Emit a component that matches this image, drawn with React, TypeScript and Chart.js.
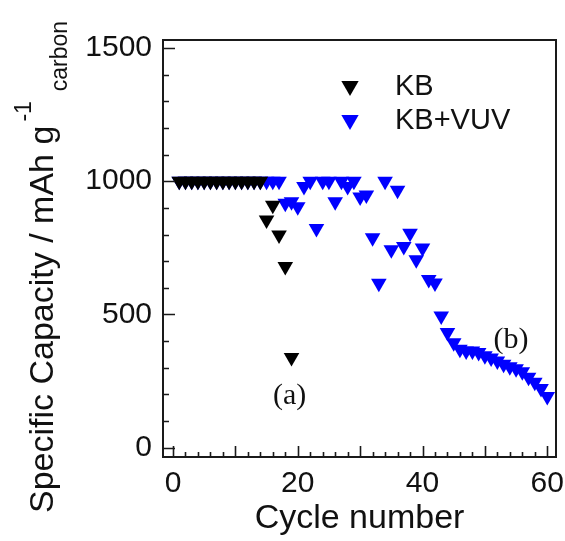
import React, { useEffect, useRef } from "react";
import { Chart, registerables } from "chart.js";

Chart.register(...registerables);

// ---- Data ----
const kbCycles = [1, 2, 3, 4, 5, 6, 7, 8, 9, 10, 11, 12, 13, 14, 15, 16, 17, 18, 19];
const kbCapacity = [1000, 1000, 1000, 1000, 1000, 1000, 1000, 1000, 1000, 1000, 1000, 1000, 1000, 1000, 854, 910, 798, 680, 338];

const vuvCycles = [
  1, 2, 3, 4, 5, 6, 7, 8, 9, 10, 11, 12, 13, 14, 15, 16, 17, 18, 19, 20,
  21, 22, 23, 24, 25, 26, 27, 28, 29, 30, 31, 32, 33, 34, 35, 36, 37, 38, 39, 40,
  41, 42, 43, 44, 45, 46, 47, 48, 49, 50, 51, 52, 53, 54, 55, 56, 57, 58, 59, 60,
];
const vuvCapacity = [
  1000, 1000, 1000, 1000, 1000, 1000, 1000, 1000, 1000, 1000, 1000, 1000, 1000, 1000, 1000, 1000, 1000, 917, 923, 904,
  980, 1000, 823, 1000, 1000, 923, 1000, 980, 1000, 941, 948, 788, 617, 1000, 743, 966, 755, 805, 705, 749,
  631, 618, 494, 432, 394, 369, 363, 363, 357, 345, 337, 325, 313, 304, 296, 285, 264, 246, 222, 192,
];

const seriesLabels = ["KB", "KB+VUV"];
const seriesColors = ["#000000", "#0000ff"];

const xTickLabels = [0, 20, 40, 60];
const yTickLabels = [0, 500, 1000, 1500];

const annotations = [
  { text: "(a)", x: 18.7, y: 194 },
  { text: "(b)", x: 54.2, y: 403 },
];

const SANS = "'Liberation Sans', Arial, sans-serif";
const SERIF = "'Liberation Serif', 'Times New Roman', serif";

const decorPlugin = {
  id: "decor",
  afterDraw(chart: any) {
    const { ctx, chartArea } = chart;
    const xs = chart.scales.x;
    const ys = chart.scales.y;
    const { left, right, top, bottom } = chartArea;
    ctx.save();
    // frame
    ctx.strokeStyle = "#1a1a1a";
    ctx.lineWidth = 2;
    ctx.strokeRect(left, top, right - left, bottom - top);
    // inward ticks
    ctx.lineWidth = 1.6;
    ctx.beginPath();
    for (let v = 0; v <= 60; v += 2) {
      const px = Math.round(xs.getPixelForValue(v)) + 0.5;
      const len = v % 10 === 0 ? 11 : 5;
      ctx.moveTo(px, bottom);
      ctx.lineTo(px, bottom - len);
    }
    for (let v = 0; v <= 1500; v += 100) {
      const py = Math.round(ys.getPixelForValue(v)) + 0.5;
      const len = v % 500 === 0 ? 12 : 6;
      ctx.moveTo(left, py);
      ctx.lineTo(left + len, py);
    }
    ctx.stroke();

    // legend
    const lx = left + 187;
    const ly = [top + 46, top + 80];
    seriesLabels.forEach((lab, i) => {
      const r = 10;
      const cx = lx;
      const cy = ly[i];
      ctx.fillStyle = seriesColors[i];
      ctx.beginPath();
      ctx.moveTo(cx, cy + r);
      ctx.lineTo(cx - r * 0.866, cy - r / 2);
      ctx.lineTo(cx + r * 0.866, cy - r / 2);
      ctx.closePath();
      ctx.fill();
      ctx.fillStyle = "#111";
      ctx.font = `29px ${SANS}`;
      ctx.textAlign = "left";
      ctx.textBaseline = "middle";
      ctx.fillText(lab, left + 232, cy + 1);
    });

    // annotations
    ctx.fillStyle = "#111";
    ctx.font = `30px ${SERIF}`;
    ctx.textAlign = "center";
    ctx.textBaseline = "middle";
    annotations.forEach((a) => {
      ctx.fillText(a.text, xs.getPixelForValue(a.x), ys.getPixelForValue(a.y));
    });

    // y-axis title with super/subscript
    ctx.translate(53, 513);
    ctx.rotate(-Math.PI / 2);
    ctx.textAlign = "left";
    ctx.textBaseline = "alphabetic";
    ctx.fillStyle = "#111";
    ctx.font = `34px ${SANS}`;
    const main = "Specific Capacity / mAh g";
    ctx.fillText(main, 0, 0);
    const w = ctx.measureText(main).width;
    ctx.font = `23px ${SANS}`;
    ctx.fillText("-1", w + 4, -22);
    const sw = ctx.measureText("-1").width;
    ctx.fillText("carbon", w + sw + 14, 14);
    ctx.restore();
  },
};

export default function App() {
  const ref = useRef<HTMLCanvasElement | null>(null);
  useEffect(() => {
    if (!ref.current) return;
    const chart = new Chart(ref.current, {
      type: "scatter",
      data: {
        datasets: [
          {
            label: seriesLabels[0],
            data: kbCycles.map((c, i) => ({ x: c, y: kbCapacity[i] })),
            pointStyle: "triangle",
            rotation: 180,
            radius: 9,
            backgroundColor: seriesColors[0],
            borderColor: seriesColors[0],
            borderWidth: 0,
          },
          {
            label: seriesLabels[1],
            data: vuvCycles.map((c, i) => ({ x: c, y: vuvCapacity[i] })),
            pointStyle: "triangle",
            rotation: 180,
            radius: 9,
            backgroundColor: seriesColors[1],
            borderColor: seriesColors[1],
            borderWidth: 0,
          },
        ],
      },
      options: {
        animation: false,
        responsive: false,
        layout: { padding: { left: 0, top: 40, right: 8, bottom: 0 } },
        plugins: { legend: { display: false }, tooltip: { enabled: false } },
        scales: {
          x: {
            type: "linear",
            min: -1.6,
            max: 61.4,
            grid: { display: false, drawTicks: false },
            border: { display: false },
            ticks: {
              stepSize: 2,
              autoSkip: false,
              maxRotation: 0,
              includeBounds: false,
              padding: 9,
              color: "#111",
              font: { family: SANS, size: 30 },
              callback: (v: any) => (xTickLabels.includes(Number(v)) ? String(v) : ""),
            },
            title: {
              display: true,
              text: "Cycle number",
              color: "#111",
              font: { family: SANS, size: 34 },
              padding: { top: 0, bottom: 2 },
            },
            afterFit: (s: any) => {
              s.height = 84;
              s.paddingLeft = 0;
              s.paddingRight = 0;
            },
          },
          y: {
            type: "linear",
            min: -35,
            max: 1530,
            grid: { display: false, drawTicks: false },
            border: { display: false },
            ticks: {
              stepSize: 100,
              autoSkip: false,
              includeBounds: false,
              padding: 11,
              color: "#111",
              font: { family: SANS, size: 30 },
              callback: (v: any) => (yTickLabels.includes(Number(v)) ? String(v) : ""),
            },
            afterFit: (s: any) => {
              s.width = 163;
            },
          },
        },
      },
      plugins: [decorPlugin],
    });
    return () => chart.destroy();
  }, []);
  return (
    <div style={{ position: "absolute", left: 0, top: 0, width: 565, height: 541, background: "#fff" }}>
      <canvas ref={ref} width={565} height={541} style={{ display: "block" }} />
    </div>
  );
}
